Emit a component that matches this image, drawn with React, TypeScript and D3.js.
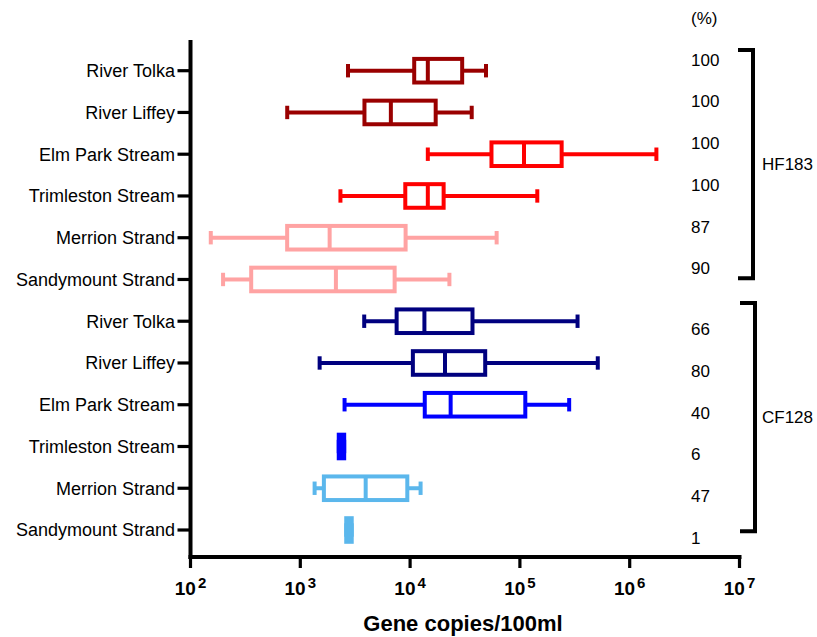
import React from "react";
import * as d3 from "d3";

const categories = [
  "River Tolka", "River Liffey", "Elm Park Stream", "Trimleston Stream", "Merrion Strand", "Sandymount Strand",
  "River Tolka", "River Liffey", "Elm Park Stream", "Trimleston Stream", "Merrion Strand", "Sandymount Strand",
];
const whiskerLow = [2720, 760, 14500, 2320, 153, 198, 3820, 1500, 2530, 2240, 1350, 2620];
const q1 = [10900, 3840, 55100, 9040, 759, 357, 7540, 10600, 13600, 2240, 1640, 2620];
const median = [14500, 6680, 109000, 14500, 1850, 2110, 13500, 20800, 23400, 2370, 3940, 2780];
const q3 = [29800, 17100, 240000, 20200, 9100, 7230, 37000, 48300, 112000, 2510, 9430, 2940];
const whiskerHigh = [49100, 36400, 1750000, 144000, 61400, 22800, 335000, 512000, 281000, 2510, 12460, 2940];
const percents = ["100", "100", "100", "100", "87", "90", "66", "80", "40", "6", "47", "1"];
const colors = ["#9a0000", "#9a0000", "#ff0000", "#ff0000", "#ffa3a3", "#ffa3a3", "#00007f", "#00007f", "#0000ff", "#0000ff", "#5bb7ec", "#5bb7ec"];
const groups = ["HF183", "CF128"];
const xTicks = [2, 3, 4, 5, 6, 7];

export default function App() {
  const W = 817, H = 637;
  const x = d3.scaleLog().domain([1e2, 1e7]).range([190.5, 739.5]);
  const y = d3.scalePoint<number>().domain(d3.range(12)).range([70.7, 530]);
  const font = "'Liberation Sans', Arial, sans-serif";
  const sw = 4;
  const boxH = 11.8;
  const capH = 6.7;
  const axisY = 557;
  const axisX = 190.5;

  const bracketX = [753, 755];
  const bracketTop = [50, 303];
  const bracketBot = [278.3, 531.3];

  return (
    <svg width={W} height={H} style={{ position: "absolute", left: 0, top: 0, background: "#fff" }} fontFamily={font}>
      <rect x={0} y={0} width={W} height={H} fill="#fff" />
      {/* y axis */}
      <line x1={axisX} x2={axisX} y1={40} y2={axisY + 2} stroke="#000" strokeWidth={4} />
      {categories.map((c, i) => (
        <g key={"yl" + i}>
          <line x1={177.5} x2={axisX} y1={y(i)} y2={y(i)} stroke="#000" strokeWidth={3.2} />
          <text x={175} y={y(i)} dy="0.35em" textAnchor="end" fontSize={18} fill="#000">{c}</text>
        </g>
      ))}
      {/* x axis */}
      <line x1={axisX - 2} x2={741.5} y1={axisY} y2={axisY} stroke="#000" strokeWidth={4} />
      {xTicks.map((p) => (
        <g key={"xt" + p}>
          <line x1={x(Math.pow(10, p))} x2={x(Math.pow(10, p))} y1={axisY} y2={axisY + 11} stroke="#000" strokeWidth={3.2} />
          <text x={x(Math.pow(10, p))} y={595} textAnchor="middle" fontWeight="bold" fontSize={19} fill="#000">
            10<tspan dx={2} dy={-7} fontSize={15}>{p}</tspan>
          </text>
        </g>
      ))}
      <text x={463} y={631} textAnchor="middle" fontWeight="bold" fontSize={22} fill="#000">Gene copies/100ml</text>

      {/* boxes */}
      {categories.map((c, i) => {
        const cy = y(i) as number;
        const col = colors[i];
        const xl = x(whiskerLow[i]);
        const xq1 = x(q1[i]);
        const xm = x(median[i]);
        const xq3 = x(q3[i]);
        const xh = x(whiskerHigh[i]);
        return (
          <g key={"b" + i} stroke={col} strokeWidth={sw} fill="none">
            <line x1={xl} x2={xq1} y1={cy} y2={cy} />
            <line x1={xq3} x2={xh} y1={cy} y2={cy} />
            <line x1={xl} x2={xl} y1={cy - capH} y2={cy + capH} strokeWidth={4} />
            <line x1={xh} x2={xh} y1={cy - capH} y2={cy + capH} strokeWidth={4} />
            <rect x={xq1} y={cy - boxH} width={Math.max(0.01, xq3 - xq1)} height={boxH * 2} fill="#fff" />
            <line x1={xm} x2={xm} y1={cy - boxH} y2={cy + boxH} />
          </g>
        );
      })}

      {/* percentages */}
      <text x={691} y={24} fontSize={17} fill="#000">(%)</text>
      {percents.map((p, i) => (
        <text key={"p" + i} x={691} y={(y(i) as number) + (i < 6 ? -5 : 14)} fontSize={17} fill="#000">{p}</text>
      ))}

      {/* brackets */}
      {groups.map((g, gi) => (
        <g key={"br" + g}>
          <path
            d={`M${bracketX[gi] - 15},${bracketTop[gi]} H${bracketX[gi]} V${bracketBot[gi]} H${bracketX[gi] - 15}`}
            fill="none" stroke="#000" strokeWidth={4}
          />
          <text x={762} y={(bracketTop[gi] + bracketBot[gi]) / 2} dy="0.35em" fontSize={17} fill="#000">{g}</text>
        </g>
      ))}
    </svg>
  );
}
